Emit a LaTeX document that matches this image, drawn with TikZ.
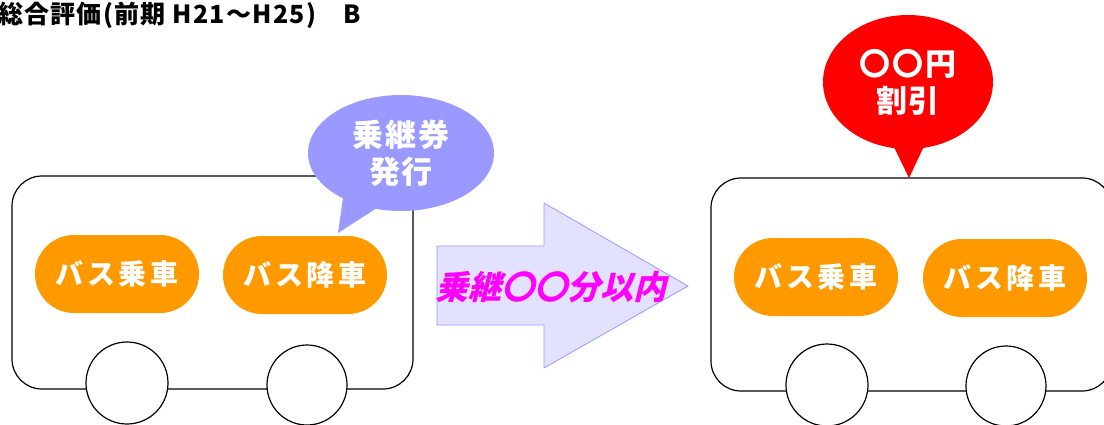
\documentclass[tikz,border=0pt]{standalone}
\usepackage{fontspec}
\usepackage{tikz}
\usetikzlibrary{positioning}
\usetikzlibrary{shapes.geometric}
\newfontfamily\jp{Noto Sans CJK JP}
\definecolor{busorange}{RGB}{255,153,0}
\definecolor{tixblue}{RGB}{153,153,255}
\definecolor{arrowfill}{RGB}{226,226,255}
\definecolor{textmag}{RGB}{255,0,255}
\tikzset{body/.style = {draw, line width = 1.2pt, rounded corners = 30}}
\tikzset{wheel/.style = {draw, fill = white, line width = 1.2pt}}
\tikzset{pill/.style = {fill = busorange, rectangle, rounded corners = 39,
    minimum width = 164, minimum height = 78, inner sep = 0,
    text = white, font = \jp\bfseries\fontsize{28}{30}\selectfont\addfontfeature{LetterSpace=14}}}
\tikzset{bubble/.style = {ellipse, inner sep = 0, text = white, align = center,
    font = \jp\bfseries\fontsize{31}{37}\selectfont\addfontfeature{LetterSpace=6}}}

\begin{document}
\begin{tikzpicture}[x=1pt, y=-1pt]
    \useasboundingbox (0,0) rectangle (1104,424);
    \node[anchor = west, inner sep = 0, font = \jp\bfseries\fontsize{25}{25}\selectfont\addfontfeature{LetterSpace=5}] (title) at (-2,15) {総合評価(前期 H21～H25)　B};
    % first bus
    \draw[body] (12,176) rectangle (413,389);
    \node[pill] (on1) at (117,274) {バス乗車};
    \node[pill] (off1) at (305,275) {バス降車};
    \draw[wheel] (127,383) circle (41);
    \draw[wheel] (307,385) circle (40);
    % ticket bubble
    \fill[tixblue] (343,198) -- (338,233) -- (380,206) -- cycle;
    \node[bubble, fill = tixblue, minimum width = 186, minimum height = 116] (ticket) at (401,153) {乗継券\\発行};
    % transfer arrow
    \coordinate (a1) at (437,246);
    \coordinate (a2) at (544,246);
    \coordinate (a3) at (544,203);
    \coordinate (tip) at (688,286);
    \coordinate (a5) at (544,368);
    \coordinate (a6) at (544,325);
    \coordinate (a7) at (437,325);
    \draw[draw = tixblue, fill = arrowfill, line width = 0.8pt] (a1) -- (a2) -- (a3) -- (tip) -- (a5) -- (a6) -- (a7) -- cycle;
    \node[text = textmag, font = \jp\bfseries\fontsize{33}{33}\selectfont\addfontfeature{FakeSlant=0.25}] (limit) at (551,287) {乗継〇〇分以内};
    % second bus
    \draw[body] (711,178) rectangle (1112,391);
    \node[pill] (on2) at (816,277) {バス乗車};
    \node[pill] (off2) at (1005,278) {バス降車};
    \draw[wheel] (827,385) circle (41);
    \draw[wheel] (1006,386) circle (40);
    % discount bubble
    \fill[red] (893,145) -- (909,178) -- (926,142) -- cycle;
    \node[bubble, fill = red, minimum width = 170, minimum height = 134] (discount) at (908,82) {〇〇円\\割引};
\end{tikzpicture}
\end{document}
